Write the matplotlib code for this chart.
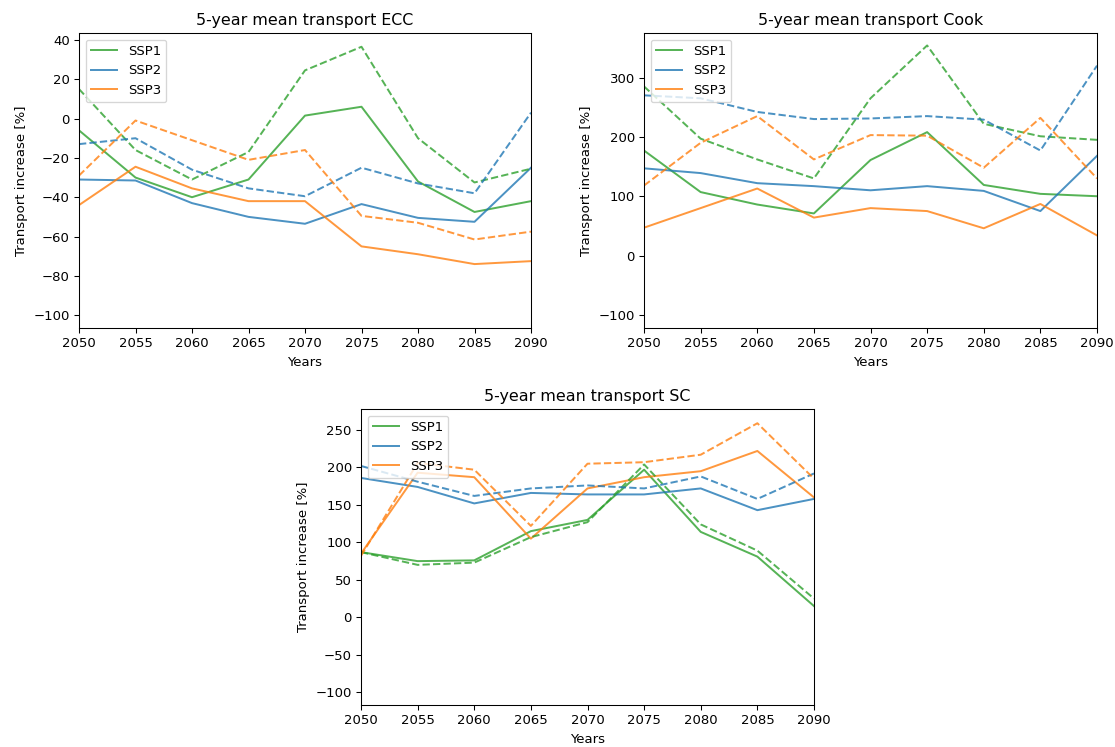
import matplotlib
matplotlib.use("Agg")
import matplotlib.pyplot as plt

years = [2050, 2055, 2060, 2065, 2070, 2075, 2080, 2085, 2090]
scenarios = ["SSP1", "SSP2", "SSP3"]
colors = ["#2ca02c", "#1f77b4", "#ff7f0e"]

# ECC
ecc_solid = {
    "SSP1": [-6, -30, -40, -31, 1.5, 6, -32, -47.5, -42],
    "SSP2": [-31, -31.5, -43, -50, -53.5, -43.5, -50.5, -52.5, -25],
    "SSP3": [-44, -24.5, -35.5, -42, -42, -65, -69, -74, -72.5],
}
ecc_dashed = {
    "SSP1": [15, -16, -31, -17, 24.5, 36.5, -10, -32.5, -25.5],
    "SSP2": [-13, -10, -26, -35.5, -39.5, -25, -33, -38, 3],
    "SSP3": [-29, -1, -11, -21, -16, -49.5, -53, -61.5, -57.5],
}
# Cook
cook_solid = {
    "SSP1": [177, 107, 86, 71, 161, 208, 119, 104, 100],
    "SSP2": [147, 139, 122, 117, 110, 117, 109, 75, 168],
    "SSP3": [47, 80, 113, 64, 80, 75, 46, 87, 34],
}
cook_dashed = {
    "SSP1": [285, 197, 162, 130, 265, 354, 222, 201, 195],
    "SSP2": [270, 265, 242, 230, 231, 235, 229, 177, 320],
    "SSP3": [118, 190, 235, 162, 203, 202, 148, 232, 130],
}
# SC
sc_solid = {
    "SSP1": [87, 75, 76, 115, 130, 197, 114, 81, 15],
    "SSP2": [186, 174, 152, 166, 164, 164, 172, 143, 158],
    "SSP3": [85, 193, 187, 105, 172, 187, 195, 222, 160],
}
sc_dashed = {
    "SSP1": [87, 70, 73, 107, 127, 204, 124, 89, 25],
    "SSP2": [202, 181, 162, 172, 176, 172, 188, 158, 192],
    "SSP3": [82, 206, 197, 122, 205, 207, 217, 259, 185],
}

panels = [
    ("5-year mean transport ECC", ecc_solid, ecc_dashed, (-106.5, 43.5), [-100, -80, -60, -40, -20, 0, 20, 40]),
    ("5-year mean transport Cook", cook_solid, cook_dashed, (-122, 375), [-100, 0, 100, 200, 300]),
    ("5-year mean transport SC", sc_solid, sc_dashed, (-117, 278), [-100, -50, 0, 50, 100, 150, 200, 250]),
]

W, H = 1115, 747
dpi = 95
fig = plt.figure(figsize=(W / dpi, H / dpi), dpi=dpi)

boxes = [
    (79, 33, 531, 328),
    (644, 33, 1097, 328),
    (361, 409, 814, 705),
]

for (title, solid, dashed, ylim, yt), (x0, y0, x1, y1) in zip(panels, boxes):
    ax = fig.add_axes([x0 / W, 1 - y1 / H, (x1 - x0) / W, (y1 - y0) / H])
    for s, c in zip(scenarios, colors):
        ax.plot(years, solid[s], color=c, alpha=0.8, label=s)
    for s, c in zip(scenarios, colors):
        ax.plot(years, dashed[s], color=c, alpha=0.8, linestyle="--")
    ax.set_xlim(2050, 2090)
    ax.set_xticks(years)
    ax.set_ylim(*ylim)
    ax.set_yticks(yt)
    ax.set_title(title)
    ax.set_xlabel("Years")
    ax.set_ylabel("Transport increase [%]")
    ax.legend(loc="upper left")

fig.savefig("out.png", dpi=dpi)
